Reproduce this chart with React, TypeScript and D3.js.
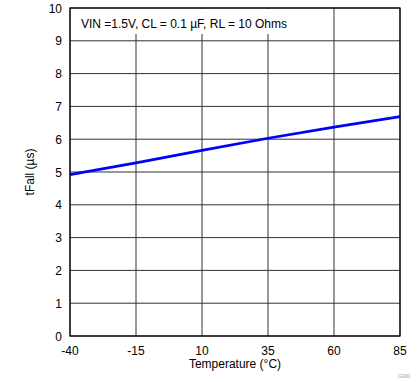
import React from "react";
import * as d3 from "d3";

const temps = [-40, -15, 10, 35, 60, 85];
const tFall = [4.92, 5.28, 5.66, 6.03, 6.37, 6.69];
const xTicks = [-40, -15, 10, 35, 60, 85];
const yTicks = [0, 1, 2, 3, 4, 5, 6, 7, 8, 9, 10];
const annotation = "VIN =1.5V, CL = 0.1 µF, RL = 10 Ohms";
const xTitle = "Temperature (°C)";
const yTitle = "tFall (µs)";

export default function App() {
  const W = 419, H = 382;
  const left = 70, right = 400, top = 8, bottom = 336;
  const x = d3.scaleLinear().domain([-40, 85]).range([left, right]);
  const y = d3.scaleLinear().domain([0, 10]).range([bottom, top]);
  const line = d3.line<number>().x((_, i) => x(temps[i])).y((d) => y(d));
  const font = "'Liberation Sans', Arial, sans-serif";
  return (
    <svg width={W} height={H} style={{ position: "absolute", left: 0, top: 0 }} fontFamily={font}>
      <rect x={0} y={0} width={W} height={H} fill="#fff" />
      {xTicks.map((t) => (
        <line key={"gx" + t} x1={x(t)} x2={x(t)} y1={top} y2={bottom} stroke="#333" strokeWidth={1} />
      ))}
      {yTicks.map((t) => (
        <line key={"gy" + t} x1={left} x2={right} y1={y(t)} y2={y(t)} stroke="#333" strokeWidth={1} />
      ))}
      <rect x={left + 1} y={top + 1} width={222} height={25} fill="#fff" />
      <text x={81} y={28} fontSize={12} fill="#000">{annotation}</text>
      <path d={line(tFall) || ""} fill="none" stroke="#0000ff" strokeWidth={2.7} />
      <rect x={left} y={top} width={right - left} height={bottom - top} fill="none" stroke="#000" strokeWidth={1.2} />
      {yTicks.map((t) => (
        <text key={"ty" + t} x={62} y={y(t) + 4.5} fontSize={12} textAnchor="end" fill="#000">{t}</text>
      ))}
      {xTicks.map((t) => (
        <text key={"tx" + t} x={x(t)} y={355} fontSize={12} textAnchor="middle" fill="#000">{t}</text>
      ))}
      <text x={(left + right) / 2} y={368} fontSize={12} textAnchor="middle" fill="#000">{xTitle}</text>
      <text transform={`translate(34,${(top + bottom) / 2}) rotate(-90)`} fontSize={12} textAnchor="middle" fill="#000">{yTitle}</text>
      <text x={404} y={378} fontSize={5} textAnchor="middle" fill="#999">G000</text>
    </svg>
  );
}
